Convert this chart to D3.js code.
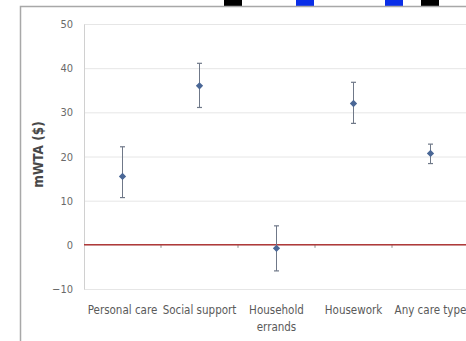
<!DOCTYPE html>
<html><head><meta charset="utf-8">
<script src="https://cdn.jsdelivr.net/npm/d3@7"></script>
<style>body{margin:0;background:#fff}svg{display:block}</style>
</head><body><svg id="c" width="466" height="341"></svg>
<script>
const categories = ["Personal care", "Social support", "Household errands", "Housework", "Any care type"];
const categoryLines = [["Personal care"], ["Social support"], ["Household", "errands"], ["Housework"], ["Any care type"]];
const mwta = [15.5, 36, -0.8, 32, 20.7];
const upper = [22.2, 41.1, 4.3, 36.8, 22.8];
const lower = [10.7, 31.1, -5.9, 27.5, 18.4];
const yTicks = [-10, 0, 10, 20, 30, 40, 50];
const yLabel = "mWTA ($)";

(function(){
const svg = d3.select("#c");
const font = "'Liberation Sans Narrow', 'DejaVu Sans Condensed', Arial, sans-serif";

// top artifacts / frame
[[224,18,"#000"],[296,18,"#0a2ee8"],[385,18,"#0a2ee8"],[421,18,"#000"]].forEach(d=>{
  svg.append("rect").attr("x",d[0]).attr("y",0).attr("width",d[1]).attr("height",6).attr("fill",d[2]);
});
svg.append("rect").attr("x",20.5).attr("y",6.5).attr("width",470).attr("height",360)
  .attr("fill","#fff").attr("stroke","#a8a8a8").attr("stroke-width",1.5);

const pl = 84, pr = 469, pt = 24, pb = 289;
const x = d3.scaleBand().domain(categories).range([pl, pr]);
const y = d3.scaleLinear().domain([-10, 50]).range([pb, pt]);

// gridlines
svg.append("g").selectAll("line").data(yTicks).join("line")
  .attr("x1", pl).attr("x2", pr).attr("y1", d=>y(d)+0.5).attr("y2", d=>y(d)+0.5)
  .attr("stroke", "#e6e6e6").attr("stroke-width", 1);

// y axis
const ya = svg.append("g").attr("transform", `translate(${pl},0)`)
  .call(d3.axisLeft(y).tickValues(yTicks).tickSize(0).tickPadding(11));
ya.select(".domain").attr("stroke", "#d0d0d0");
ya.selectAll("text").attr("font-family", font).attr("font-size", 11).attr("fill", "#6a6a6a");

svg.append("text").attr("transform", `translate(43,${(y(10)+y(30))/2-2}) rotate(-90)`)
  .attr("text-anchor","middle").attr("font-family", font).attr("font-size", 13.5)
  .attr("font-weight","bold").attr("fill","#484848").text(yLabel);

// x axis at zero
const xa = svg.append("g").attr("transform", `translate(0,${y(0)})`)
  .call(d3.axisBottom(x).tickSize(0).tickFormat(""));
xa.select(".domain").remove();
svg.append("g").selectAll("line").data(categories.slice(1)).join("line")
  .attr("x1", d=>x(d)).attr("x2", d=>x(d)).attr("y1", y(0)).attr("y2", y(0)+3)
  .attr("stroke", "#909090");
svg.append("line").attr("x1", pl).attr("x2", pr).attr("y1", y(0)).attr("y2", y(0))
  .attr("stroke", "#b03a3a").attr("stroke-width", 1.5);

// category labels
const labs = svg.append("g").selectAll("text").data(categories).join("text")
  .attr("x", d=>x(d)+x.bandwidth()/2).attr("y", 314)
  .attr("text-anchor","middle").attr("font-family", font).attr("font-size", 11.5).attr("fill","#5a5a5a");
labs.each(function(d,i){
  const t = d3.select(this);
  categoryLines[i].forEach((s,j)=>t.append("tspan").attr("x", x(d)+x.bandwidth()/2).attr("dy", j?17:0).text(s));
});

// error bars
const g = svg.append("g");
categories.forEach((c,i)=>{
  const cx = x(c)+x.bandwidth()/2;
  g.append("line").attr("x1",cx).attr("x2",cx).attr("y1",y(upper[i])).attr("y2",y(lower[i]))
    .attr("stroke","#6f7888").attr("stroke-width",1);
  [upper[i], lower[i]].forEach(v=>g.append("line").attr("x1",cx-2.5).attr("x2",cx+2.5)
    .attr("y1",y(v)).attr("y2",y(v)).attr("stroke","#6f7888").attr("stroke-width",1.2));
});
g.selectAll("path.pt").data(categories).join("path").attr("class","pt")
  .attr("d", d3.symbol().type(d3.symbolDiamond2).size(34))
  .attr("transform",(d,i)=>`translate(${x(d)+x.bandwidth()/2},${y(mwta[i])})`)
  .attr("fill","#4a6796");
})();
</script></body></html>
